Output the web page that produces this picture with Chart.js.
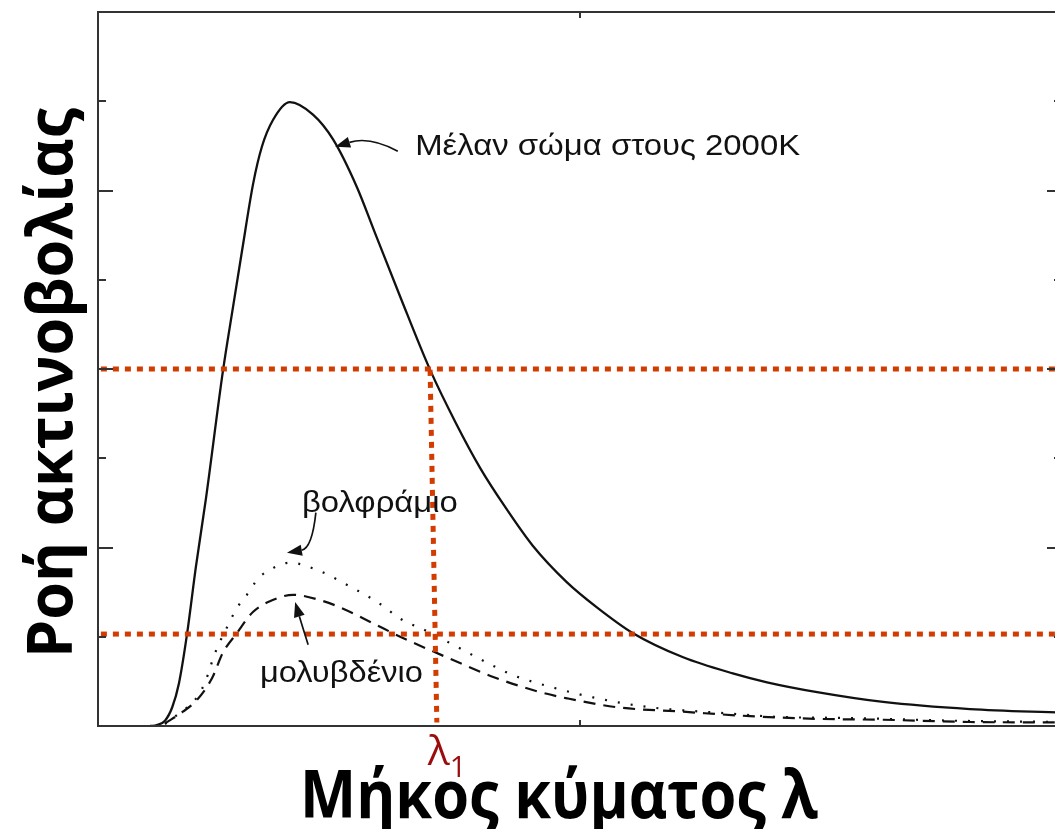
<!DOCTYPE html>
<html>
<head>
<meta charset="utf-8">
<script src="https://cdn.jsdelivr.net/npm/chart.js@4.4.1/dist/chart.umd.min.js"></script>
<style>
  html, body { margin: 0; padding: 0; background: #ffffff; overflow: hidden; }
  #wrap { position: relative; width: 1064px; height: 829px; }
</style>
</head>
<body>
<div id="wrap"><canvas id="chart"></canvas></div>
<script>
// Wavelength (arbitrary units) and spectral radiant flux of each emitter
const blackbodyX = [0.108, 0.122, 0.139, 0.154, 0.168, 0.185, 0.203, 0.224, 0.259, 0.280, 0.299, 0.322, 0.340, 0.363, 0.398, 0.446, 0.488, 0.537, 0.575, 0.627, 0.689, 0.741, 0.793, 0.844, 0.902, 0.973, 1.035, 1.110, 1.214, 1.317, 1.388, 1.492, 1.629, 1.809, 2.000];
const blackbodyY = [0.00, 0.01, 0.06, 0.21, 0.48, 1.04, 1.78, 2.55, 3.97, 4.69, 5.33, 6.08, 6.49, 6.79, 6.99, 6.85, 6.57, 6.04, 5.52, 4.81, 3.99, 3.41, 2.89, 2.46, 2.02, 1.61, 1.33, 1.04, 0.77, 0.59, 0.49, 0.38, 0.27, 0.19, 0.15];

const tungstenX = [0.139, 0.170, 0.201, 0.222, 0.243, 0.268, 0.288, 0.309, 0.332, 0.363, 0.398, 0.454, 0.517, 0.579, 0.637, 0.668, 0.730, 0.807, 0.861, 0.938, 1.027, 1.145, 1.284, 1.421, 1.560, 1.768, 2.000];
const tungstenY = [0.02, 0.15, 0.29, 0.49, 0.82, 1.11, 1.32, 1.47, 1.65, 1.77, 1.83, 1.75, 1.58, 1.39, 1.17, 1.10, 0.93, 0.71, 0.57, 0.44, 0.32, 0.21, 0.15, 0.10, 0.09, 0.06, 0.045];

const molybdenumX = [0.139, 0.176, 0.205, 0.237, 0.259, 0.288, 0.322, 0.371, 0.405, 0.461, 0.502, 0.571, 0.627, 0.689, 0.745, 0.820, 0.917, 0.973, 1.077, 1.214, 1.353, 1.492, 1.629, 1.809, 2.000];
const molybdenumY = [0.03, 0.16, 0.29, 0.54, 0.82, 1.04, 1.28, 1.43, 1.47, 1.41, 1.33, 1.15, 1.00, 0.85, 0.72, 0.55, 0.38, 0.31, 0.21, 0.16, 0.11, 0.08, 0.07, 0.045, 0.04];

// Reference levels: black-body flux and metal flux read at λ1
const fluxLevels = [4.0, 1.03];
const lambda1X = [0.689, 0.703];
const lambda1Y = [3.99, 0.04];

const xTicks = [0, 1, 2];
const yTicks = [0, 1, 2, 3, 4, 5, 6, 7, 8];

const toPoints = (xs, ys) => xs.map((x, i) => ({ x, y: ys[i] }));

const GUIDE = '#d23c00';
const INK = '#111111';

// Annotation anchors in data units
const notes = {
  blackbody: { text: 'Μέλαν σώμα στους 2000K', x: 0.658, y: 6.40, width: 385 },
  tungsten:  { text: 'βολφράμιο', x: 0.423, y: 2.40, width: 156 },
  molybdenum:{ text: 'μολυβδένιο', x: 0.336, y: 0.49, width: 163 }
};
const arrows = [
  { from: [0.622, 6.44], ctrl: [0.564, 6.61], to: [0.492, 6.49] },
  { from: [0.452, 2.39], ctrl: [0.444, 1.99], to: [0.392, 1.94] },
  { from: [0.436, 0.91], ctrl: [0.422, 1.15], to: [0.409, 1.39] }
];
const lambdaLabel = { x: 0.684, y: -0.44 };

function fittedText(ctx, text, x, y, size, weight, family, targetW) {
  ctx.font = `${weight} ${size}px ${family}`;
  const w = ctx.measureText(text).width;
  const sx = targetW ? targetW / w : 1;
  ctx.save();
  ctx.translate(x, y);
  ctx.scale(sx, 1);
  ctx.fillText(text, 0, 0);
  ctx.restore();
}

const framePlugin = {
  id: 'frame',
  afterDatasetsDraw(chart) {
    const { ctx, chartArea: a, scales } = chart;
    ctx.save();
    ctx.strokeStyle = '#333333';
    ctx.lineWidth = 2;
    ctx.strokeRect(a.left, a.top, a.right - a.left, a.bottom - a.top);
    yTicks.forEach(v => {
      if (v === yTicks[0] || v === yTicks[yTicks.length - 1]) return;
      const py = Math.round(scales.y.getPixelForValue(v));
      const len = v % 2 === 0 ? 15 : 8;
      ctx.beginPath();
      ctx.moveTo(a.left, py); ctx.lineTo(a.left + len, py);
      ctx.moveTo(a.right, py); ctx.lineTo(a.right - len, py);
      ctx.stroke();
    });
    xTicks.forEach(v => {
      if (v === xTicks[0] || v === xTicks[xTicks.length - 1]) return;
      const px = Math.round(scales.x.getPixelForValue(v));
      ctx.beginPath();
      ctx.moveTo(px, a.bottom); ctx.lineTo(px, a.bottom - 6);
      ctx.moveTo(px, a.top); ctx.lineTo(px, a.top + 6);
      ctx.stroke();
    });
    ctx.restore();
  }
};

const labelPlugin = {
  id: 'labels',
  afterDraw(chart) {
    const { ctx, scales } = chart;
    const X = v => scales.x.getPixelForValue(v);
    const Y = v => scales.y.getPixelForValue(v);
    ctx.save();
    ctx.fillStyle = INK;
    ctx.textBaseline = 'alphabetic';
    ctx.textAlign = 'left';
    Object.values(notes).forEach(n => {
      fittedText(ctx, n.text, X(n.x), Y(n.y), 30, 'normal', '"Liberation Sans", Arial, sans-serif', n.width);
    });

    // arrows pointing from each label to its curve
    ctx.strokeStyle = INK;
    ctx.lineWidth = 1.7;
    arrows.forEach(ar => {
      const f = [X(ar.from[0]), Y(ar.from[1])];
      const c = [X(ar.ctrl[0]), Y(ar.ctrl[1])];
      const t = [X(ar.to[0]), Y(ar.to[1])];
      const ang = Math.atan2(t[1] - c[1], t[0] - c[0]);
      const headLen = 15, headW = 5.5;
      const bx = t[0] - headLen * Math.cos(ang), by = t[1] - headLen * Math.sin(ang);
      ctx.beginPath();
      ctx.moveTo(f[0], f[1]);
      ctx.quadraticCurveTo(c[0], c[1], bx, by);
      ctx.stroke();
      ctx.beginPath();
      ctx.moveTo(t[0], t[1]);
      ctx.lineTo(bx + headW * Math.sin(ang), by - headW * Math.cos(ang));
      ctx.lineTo(bx - headW * Math.sin(ang), by + headW * Math.cos(ang));
      ctx.closePath();
      ctx.fillStyle = INK;
      ctx.fill();
    });

    // λ1 marker below the axis
    ctx.fillStyle = '#9b0d0d';
    const lx = X(lambdaLabel.x), ly = Y(lambdaLabel.y);
    ctx.font = '41px "Open Sans", "DejaVu Sans", sans-serif';
    ctx.fillText('λ', lx, ly);
    const lw = ctx.measureText('λ').width;
    ctx.font = '29px "Open Sans", "DejaVu Sans", sans-serif';
    ctx.fillText('1', lx + lw, ly + 12);

    // axis titles
    ctx.fillStyle = '#000000';
    ctx.textAlign = 'left';
    fittedText(ctx, 'Μήκος κύματος λ', 300, 818, 66, 'bold', '"Open Sans", sans-serif', 518);
    ctx.save();
    ctx.translate(72, 658);
    ctx.rotate(-Math.PI / 2);
    fittedText(ctx, 'Ροή ακτινοβολίας', 0, 0, 63, 'bold', '"Open Sans", sans-serif', 550);
    ctx.restore();
    ctx.restore();
  }
};

const guideSets = fluxLevels.map(v => ({
  data: toPoints([0.006, 2.0], [v, v]),
  borderColor: GUIDE, borderWidth: 5, borderDash: [6, 6], borderCapStyle: 'butt',
  pointRadius: 0, tension: 0, order: 0
}));

new Chart(document.getElementById('chart'), {
  type: 'line',
  data: {
    datasets: [
      ...guideSets,
      {
        data: toPoints(lambda1X, lambda1Y),
        borderColor: GUIDE, borderWidth: 5, borderDash: [6, 6], borderCapStyle: 'butt',
        pointRadius: 0, tension: 0, order: 0
      },
      {
        label: 'Μέλαν σώμα 2000K',
        data: toPoints(blackbodyX, blackbodyY),
        borderColor: INK, borderWidth: 2.3, pointRadius: 0,
        cubicInterpolationMode: 'monotone', order: 1
      },
      {
        label: 'βολφράμιο',
        data: toPoints(tungstenX, tungstenY),
        borderColor: INK, borderWidth: 2.2, borderDash: [2, 11], pointRadius: 0,
        cubicInterpolationMode: 'monotone', order: 2
      },
      {
        label: 'μολυβδένιο',
        data: toPoints(molybdenumX, molybdenumY),
        borderColor: INK, borderWidth: 2.2, borderDash: [12, 8], pointRadius: 0,
        cubicInterpolationMode: 'monotone', order: 3
      }
    ]
  },
  options: {
    responsive: true,
    maintainAspectRatio: false,
    animation: false,
    layout: { padding: { left: 98, top: 12, right: 2, bottom: 103 } },
    plugins: { legend: { display: false }, tooltip: { enabled: false } },
    scales: {
      x: { type: 'linear', min: 0, max: 2, display: false },
      y: { type: 'linear', min: 0, max: 8, display: false }
    }
  },
  plugins: [framePlugin, labelPlugin]
});
</script>
</body>
</html>
